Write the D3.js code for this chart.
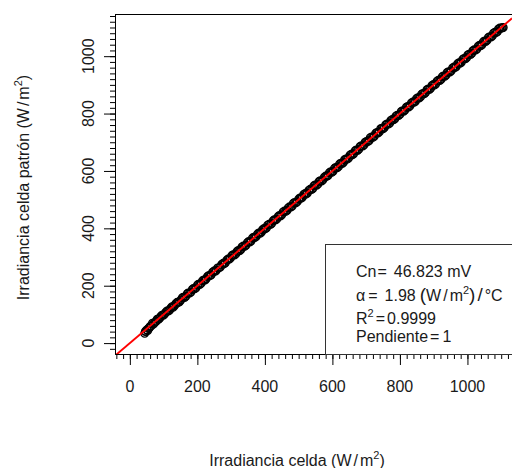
<!DOCTYPE html>
<html>
<head>
<meta charset="utf-8">
<script src="https://cdn.jsdelivr.net/npm/d3@7"></script>
<style>
  body { margin: 0; background: #fff; }
  text { font-family: "Liberation Sans", Arial, sans-serif; fill: #1a1a1a; }
</style>
</head>
<body>
<div class="canvas"></div>
<script>
// Data
var irrCelda = [44,47,50,53,57,63,70,78,85,91,99,106,114,121,128,136,143,151,158,166,173,181,188,196,203,211,219,226,234,241,249,256,264,272,279,287,294,302,310,317,325,332,340,348,355,363,370,378,386,393,401,408,416,424,431,439,446,454,462,469,477,484,492,500,507,515,522,530,538,545,553,560,568,576,583,591,598,606,614,621,629,636,644,652,659,667,674,682,690,697,705,712,720,728,735,743,750,758,766,773,781,788,796,804,811,819,826,834,842,849,857,864,872,880,887,895,902,910,918,925,933,940,948,956,963,971,978,986,994,1001,1009,1016,1024,1032,1039,1047,1054,1062,1070,1077,1085,1092,1100,1106,
  46,55,60,67,74,81,88,95,103,110,118,125,132,140,147,155,162,170,177,185,192,200,207,215,223,230,238,245,253,260,268,276,283,291,298,306,314,321,329,336,344,352,359,367,374,382,390,397,405,412,420,428,435,443,450,458,466,473,481,488,496,504,511,519,526,534,542,549,557,564,572,580,587,595,602,610,618,625,633,640,648,656,663,671,678,686,694,701,709,716,724,732,739,747,754,762,770,777,785,792,800,808,815,823,830,838,846,853,861,868,876,884,891,899,906,914,922,929,937,944,952,960,967,975,982,990,998,1005,1013,1020,1028,1036,1043,1051,1058,1066,1074,1081,1089,1096,1103];
var irrPatron = [34,40,46,44,52,60,66,76,83,92,97,107,112,122,125,137,141,150,160,163,175,178,190,193,205,208,220,224,236,238,251,254,262,274,276,289,292,305,307,319,322,335,337,350,352,366,368,380,383,395,398,411,413,426,429,441,443,457,459,471,474,487,489,502,505,518,519,532,535,548,550,563,565,578,581,594,595,609,611,624,626,639,641,655,656,670,671,685,687,700,702,716,717,731,732,747,747,761,763,776,778,791,793,807,808,822,823,837,839,852,854,867,869,883,884,898,899,913,915,928,930,943,945,959,960,974,975,989,991,1004,1006,1019,1021,1035,1036,1050,1051,1065,1067,1080,1082,1095,1097,1100,
  41,51,58,69,72,83,86,97,101,112,115,127,130,142,144,157,159,172,174,187,189,202,204,217,220,232,235,247,250,262,265,278,280,293,296,308,311,323,326,338,341,354,356,369,371,384,387,399,402,414,417,430,432,445,447,460,463,475,478,490,493,506,508,521,523,536,539,551,554,566,569,582,584,597,599,612,615,627,630,642,645,658,660,673,675,688,691,703,706,718,721,734,736,749,751,764,767,779,782,794,797,810,812,825,827,840,843,855,858,870,873,886,888,901,903,916,919,931,934,946,949,962,964,977,979,992,995,1007,1010,1022,1025,1038,1040,1053,1055,1068,1071,1083,1086,1098,1099];
var majorTicks = [0, 200, 400, 600, 800, 1000];
var tickLabels = ['0', '200', '400', '600', '800', '1000'];
var pendiente = 1, intercepto = 0;
var legendCn = '46.823 mV', legendAlpha = '1.98', legendR2 = '0.9999', legendPend = '1';

// Config
var width = 512, height = 468,
    plotLeft = 115, plotRight = 512, plotTop = 14, plotBottom = 354,
    fontSize = 16;

var svg = d3.select('.canvas').append('svg')
    .attr('width', width)
    .attr('height', height)
    .style('display', 'block')
    .style('background-color', '#fff');

var x = d3.scaleLinear().domain([-44, 1132]).range([plotLeft, plotRight]);
var y = d3.scaleLinear().domain([-38, 1147]).range([plotBottom, plotTop]);

var minorX = d3.range(-40, 1132, 20),
    minorY = d3.range(-20, 1147, 20);

svg.append('clipPath').attr('id', 'plot')
  .append('rect').attr('x', plotLeft).attr('y', plotTop)
  .attr('width', plotRight - plotLeft).attr('height', plotBottom - plotTop);

// Points
svg.append('g').attr('clip-path', 'url(#plot)')
  .selectAll('circle')
  .data(d3.zip(irrCelda, irrPatron))
  .enter()
  .append('circle')
  .attr('cx', function (d) { return x(d[0]); })
  .attr('cy', function (d) { return y(d[1]); })
  .attr('r', 3.8)
  .style('fill', 'none')
  .style('stroke', '#000')
  .style('stroke-width', 1.4);

// Fitted line
svg.append('path').attr('clip-path', 'url(#plot)')
  .datum(x.domain())
  .attr('d', d3.line()
      .x(function (d) { return x(d); })
      .y(function (d) { return y(intercepto + pendiente * d); }))
  .style('fill', 'none')
  .style('stroke', '#ff0000')
  .style('stroke-width', 1.9);

// Axes
function styleAxis(g) {
  g.selectAll('path, line').style('stroke', '#000').style('stroke-width', 1);
  g.selectAll('text').remove();
}
svg.append('g').attr('transform', 'translate(0,' + plotBottom + ')')
  .call(d3.axisBottom(x).tickValues(minorX).tickSize(5).tickSizeOuter(0).tickFormat(''))
  .call(styleAxis);
svg.append('g').attr('transform', 'translate(0,' + plotBottom + ')')
  .call(d3.axisBottom(x).tickValues(majorTicks).tickSize(11).tickSizeOuter(0).tickFormat(''))
  .call(styleAxis);
svg.append('g').attr('transform', 'translate(' + plotLeft + ',0)')
  .call(d3.axisLeft(y).tickValues(minorY).tickSize(5).tickSizeOuter(0).tickFormat(''))
  .call(styleAxis);
svg.append('g').attr('transform', 'translate(' + plotLeft + ',0)')
  .call(d3.axisLeft(y).tickValues(majorTicks).tickSize(11).tickSizeOuter(0).tickFormat(''))
  .call(styleAxis);

// Top border
svg.append('line')
  .attr('x1', plotLeft).attr('x2', plotRight)
  .attr('y1', plotTop + 0.5).attr('y2', plotTop + 0.5)
  .style('stroke', '#000');

// Tick labels
svg.append('g').selectAll('text')
  .data(majorTicks).enter().append('text')
  .attr('x', function (d) { return x(d); })
  .attr('y', 392)
  .attr('text-anchor', 'middle')
  .style('font-size', fontSize + 'px')
  .text(function (d, i) { return tickLabels[i]; });

svg.append('g').selectAll('text')
  .data(majorTicks).enter().append('text')
  .attr('transform', function (d) { return 'translate(94,' + y(d) + ') rotate(-90)'; })
  .attr('text-anchor', 'middle')
  .style('font-size', fontSize + 'px')
  .text(function (d, i) { return tickLabels[i]; });

// Axis titles
function unitLabel(t, lead) {
  t.append('tspan').text(lead + '(W');
  t.append('tspan').attr('dx', 2).text('/');
  t.append('tspan').attr('dx', 2).text('m');
  t.append('tspan').attr('dy', -7).style('font-size', '11px').text('2');
  t.append('tspan').attr('dy', 7).text(')');
}
var xt = svg.append('text')
  .attr('x', 297).attr('y', 466)
  .attr('text-anchor', 'middle')
  .style('font-size', fontSize + 'px');
unitLabel(xt, 'Irradiancia celda ');

var yt = svg.append('text')
  .attr('transform', 'translate(28.5,187.5) rotate(-90)')
  .attr('text-anchor', 'middle')
  .style('font-size', fontSize + 'px');
unitLabel(yt, 'Irradiancia celda patrón ');

// Legend
svg.append('rect')
  .attr('x', 325.5).attr('y', 244.5)
  .attr('width', 220).attr('height', plotBottom - 244)
  .style('fill', '#fff')
  .style('stroke', '#333');

var lg = svg.append('g').style('font-size', fontSize + 'px');
var l1 = lg.append('text').attr('x', 356).attr('y', 276.5);
l1.append('tspan').text('Cn');
l1.append('tspan').attr('dx', 1).text('=');
l1.append('tspan').attr('dx', 7).text(legendCn);

var l2 = lg.append('text').attr('x', 356).attr('y', 300.5);
l2.append('tspan').text('α');
l2.append('tspan').attr('dx', 3).text('=');
l2.append('tspan').attr('dx', 7).text(legendAlpha);
l2.append('tspan').attr('dx', 4).style('font-size', '19px').text('(');
l2.append('tspan').text('W');
l2.append('tspan').attr('dx', 2).text('/');
l2.append('tspan').attr('dx', 2).text('m');
l2.append('tspan').attr('dy', -7).style('font-size', '11px').text('2');
l2.append('tspan').attr('dy', 7).style('font-size', '19px').text(')');
l2.append('tspan').attr('dx', 2).style('font-size', '19px').text('/');
l2.append('tspan').attr('dx', 2).text('°C');

var l3 = lg.append('text').attr('x', 356).attr('y', 324);
l3.append('tspan').text('R');
l3.append('tspan').attr('dy', -7).style('font-size', '11px').text('2');
l3.append('tspan').attr('dy', 7).attr('dx', 2).text('=');
l3.append('tspan').attr('dx', 2).text(legendR2);

var l4 = lg.append('text').attr('x', 356).attr('y', 341.5);
l4.append('tspan').text('Pendiente');
l4.append('tspan').attr('dx', 2).text('=');
l4.append('tspan').attr('dx', 3).text(legendPend);
</script>
</body>
</html>
